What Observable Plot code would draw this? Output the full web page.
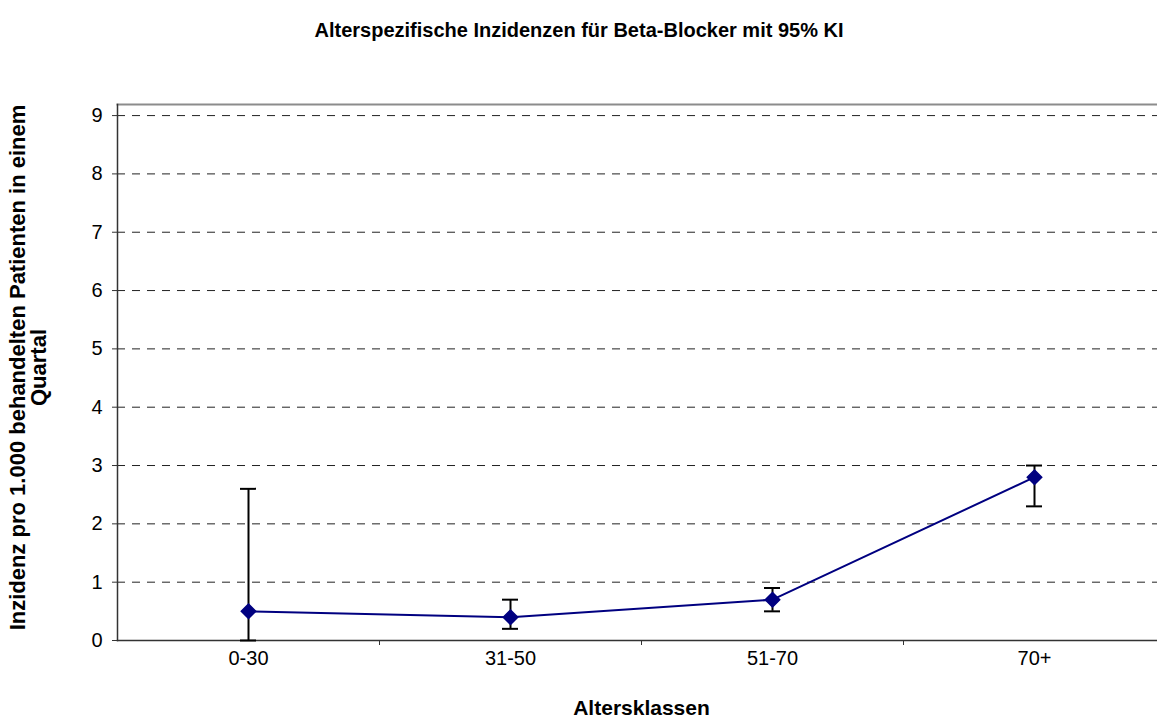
<!DOCTYPE html>
<html>
<head>
<meta charset="utf-8">
<script src="https://cdn.jsdelivr.net/npm/d3@7"></script>
<script src="https://cdn.jsdelivr.net/npm/@observablehq/plot@0.6"></script>
<style>
  html, body { margin: 0; padding: 0; background: #fff; overflow: hidden; }
  #chart svg { display: block; overflow: visible; }
</style>
</head>
<body>
<div id="chart"></div>
<script>
// Altersklassen und Inzidenzen (pro 1.000 behandelten Patienten in einem Quartal)
const categories = ["0-30", "31-50", "51-70", "70+"];
const incidence = [0.5, 0.4, 0.7, 2.8];
const ciLower = [0.0, 0.2, 0.5, 2.3];
const ciUpper = [2.6, 0.7, 0.9, 3.0];
const yTicks = [0, 1, 2, 3, 4, 5, 6, 7, 8, 9];

const titleText = "Alterspezifische Inzidenzen für Beta-Blocker mit 95% KI";
const yLabelText = "Inzidenz pro 1.000 behandelten Patienten in einem\nQuartal";
const xLabelText = "Altersklassen";

const rows = categories.map((c, i) => ({
  cat: c, value: incidence[i], lo: ciLower[i], hi: ciUpper[i]
}));

const W = 1157, H = 717;
const mL = 117, mR = -8, mT = 104, mB = 77;
const band = (W - mL - mR) / categories.length;
const capInset = (band - 16) / 2;
const font = "'Liberation Sans', Arial, sans-serif";

const chart = Plot.plot({
  width: W,
  height: H,
  marginLeft: mL,
  marginRight: mR,
  marginTop: mT,
  marginBottom: mB,
  style: { fontFamily: font, fontSize: "20px", color: "#000", background: "#fff" },
  x: { domain: categories, padding: 0, axis: null },
  y: { domain: [0, 9.19], axis: null },
  marks: [
    // dashed horizontal gridlines
    Plot.gridY(yTicks.slice(1), { stroke: "#222", strokeOpacity: 1, strokeDasharray: "8,7", strokeWidth: 1 }),
    // plot area top border
    Plot.frame({ anchor: "top", stroke: "#8c8c8c", strokeWidth: 2 }),
    // axis lines
    Plot.frame({ anchor: "left", stroke: "#333", strokeWidth: 1.5 }),
    Plot.frame({ anchor: "bottom", stroke: "#333", strokeWidth: 1.5 }),
    // y axis ticks and labels
    Plot.axisY(yTicks, { tickSize: 5, tickPadding: 10, tickFormat: d => String(d), stroke: "#333", fontSize: 20, label: null }),
    // x category labels
    Plot.axisX(categories, { tickSize: 0, tickPadding: 10, fontSize: 20, label: null }),
    // ticks on band boundaries
    Plot.axisX(categories.slice(1), { tickSize: 5, dx: -band / 2, tickFormat: () => "", stroke: "#333", label: null }),
    // confidence intervals
    Plot.ruleX(rows, { x: "cat", y1: "lo", y2: "hi", stroke: "#000", strokeWidth: 2 }),
    Plot.tickY(rows, { x: "cat", y: "lo", stroke: "#000", strokeWidth: 2, insetLeft: capInset, insetRight: capInset }),
    Plot.tickY(rows, { x: "cat", y: "hi", stroke: "#000", strokeWidth: 2, insetLeft: capInset, insetRight: capInset }),
    // incidence line and markers
    Plot.line(rows, { x: "cat", y: "value", stroke: "#000080", strokeWidth: 2 }),
    Plot.dot(rows, { x: "cat", y: "value", symbol: "diamond2", r: 6.5, fill: "#000080", stroke: "#000080" }),
    // title
    Plot.text([titleText], { frameAnchor: "top", lineAnchor: "middle", dx: W / 2 - (mL + (W - mR)) / 2, dy: -74, fontWeight: "bold", fontSize: 20 }),
    // y axis title
    Plot.text([yLabelText], { frameAnchor: "left", textAnchor: "middle", lineAnchor: "middle", dx: -89, dy: -5, rotate: -90, fontWeight: "bold", fontSize: 22, lineHeight: 0.98 }),
    // x axis title
    Plot.text([xLabelText], { frameAnchor: "bottom", lineAnchor: "middle", dy: 68, fontWeight: "bold", fontSize: 21 })
  ]
});

document.getElementById("chart").appendChild(chart);
</script>
</body>
</html>
